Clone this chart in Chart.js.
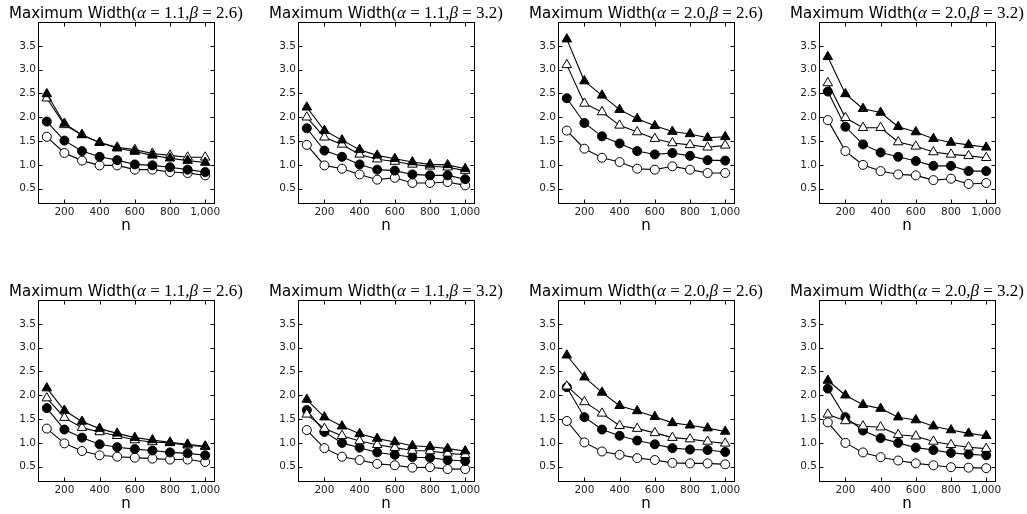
<!DOCTYPE html>
<html lang="en">
<head>
  <meta charset="UTF-8">
  <title>Maximum Width</title>
  <style>
    html, body { margin: 0; padding: 0; background: #fff; overflow: hidden; }
    #wrap { position: relative; width: 1027px; height: 514px; }
    .panel { position: absolute; }
  </style>
</head>
<body>
<div id="wrap"></div>

<script src="https://cdn.jsdelivr.net/npm/chart.js@4.4.1/dist/chart.umd.min.js"></script>
<script>
  // x values and ticks
  const nValues = [100, 200, 300, 400, 500, 600, 700, 800, 900, 1000];
  const xTicks = [200, 400, 600, 800, 1000];
  const yTicks = [0.5, 1.0, 1.5, 2.0, 2.5, 3.0, 3.5];

  // panel parameters (alpha, beta), same for both rows
  const alphas = ['1.1', '1.1', '2.0', '2.0'];
  const betas = ['2.6', '3.2', '2.6', '3.2'];

  // top row
  const p1FilledTri = [2.49, 1.87, 1.63, 1.47, 1.35, 1.28, 1.20, 1.14, 1.09, 1.05];
  const p1OpenTri   = [2.40, 1.84, 1.63, 1.47, 1.37, 1.32, 1.24, 1.20, 1.16, 1.16];
  const p1FilledCir = [1.91, 1.51, 1.29, 1.17, 1.10, 1.01, 0.99, 0.95, 0.90, 0.85];
  const p1OpenCir   = [1.59, 1.25, 1.09, 0.99, 0.99, 0.90, 0.90, 0.85, 0.83, 0.78];

  const p2FilledTri = [2.21, 1.72, 1.52, 1.32, 1.20, 1.13, 1.06, 1.01, 1.00, 0.92];
  const p2OpenTri   = [2.00, 1.58, 1.43, 1.22, 1.12, 1.07, 1.01, 0.97, 0.95, 0.88];
  const p2FilledCir = [1.77, 1.30, 1.17, 1.01, 0.90, 0.88, 0.80, 0.78, 0.78, 0.70];
  const p2OpenCir   = [1.42, 0.99, 0.92, 0.80, 0.69, 0.73, 0.62, 0.62, 0.64, 0.57];

  const p3FilledTri = [3.64, 2.76, 2.46, 2.16, 1.97, 1.82, 1.70, 1.65, 1.57, 1.59];
  const p3OpenTri   = [3.10, 2.29, 2.11, 1.83, 1.69, 1.55, 1.46, 1.42, 1.37, 1.41];
  const p3FilledCir = [2.40, 1.88, 1.60, 1.45, 1.29, 1.22, 1.25, 1.19, 1.10, 1.09];
  const p3OpenCir   = [1.72, 1.34, 1.15, 1.06, 0.92, 0.90, 0.97, 0.90, 0.83, 0.83];

  const p4FilledTri = [3.27, 2.49, 2.18, 2.10, 1.80, 1.69, 1.55, 1.47, 1.42, 1.37];
  const p4OpenTri   = [2.72, 1.99, 1.78, 1.78, 1.48, 1.39, 1.27, 1.22, 1.19, 1.15];
  const p4FilledCir = [2.54, 1.80, 1.43, 1.26, 1.17, 1.08, 0.98, 0.98, 0.87, 0.87];
  const p4OpenCir   = [1.94, 1.29, 1.00, 0.87, 0.80, 0.78, 0.68, 0.71, 0.60, 0.62];

  // bottom row
  const p5FilledTri = [2.15, 1.68, 1.45, 1.30, 1.20, 1.11, 1.06, 1.01, 0.97, 0.93];
  const p5OpenTri   = [1.94, 1.53, 1.32, 1.23, 1.15, 1.06, 1.02, 1.00, 0.95, 0.92];
  const p5FilledCir = [1.73, 1.28, 1.11, 0.97, 0.91, 0.87, 0.84, 0.80, 0.78, 0.74];
  const p5OpenCir   = [1.30, 0.99, 0.83, 0.74, 0.71, 0.69, 0.67, 0.65, 0.65, 0.60];

  const p6FilledTri = [1.91, 1.54, 1.35, 1.19, 1.09, 1.02, 0.94, 0.92, 0.88, 0.83];
  const p6OpenTri   = [1.60, 1.30, 1.15, 1.04, 0.96, 0.90, 0.84, 0.83, 0.78, 0.75];
  const p6FilledCir = [1.69, 1.23, 1.00, 0.90, 0.80, 0.75, 0.70, 0.69, 0.64, 0.62];
  const p6OpenCir   = [1.27, 0.89, 0.71, 0.64, 0.56, 0.53, 0.48, 0.49, 0.45, 0.45];

  const p7FilledTri = [2.84, 2.38, 2.06, 1.78, 1.67, 1.55, 1.42, 1.37, 1.31, 1.24];
  const p7OpenTri   = [2.19, 1.86, 1.62, 1.36, 1.30, 1.21, 1.11, 1.08, 1.03, 0.99];
  const p7FilledCir = [2.17, 1.54, 1.28, 1.15, 1.05, 0.97, 0.89, 0.86, 0.85, 0.81];
  const p7OpenCir   = [1.46, 1.01, 0.82, 0.75, 0.68, 0.64, 0.58, 0.57, 0.57, 0.55];

  const p8FilledTri = [2.31, 2.00, 1.80, 1.72, 1.54, 1.48, 1.35, 1.27, 1.20, 1.15];
  const p8OpenTri   = [1.60, 1.46, 1.35, 1.33, 1.17, 1.14, 1.03, 0.96, 0.91, 0.88];
  const p8FilledCir = [2.14, 1.54, 1.26, 1.10, 1.00, 0.90, 0.85, 0.79, 0.76, 0.74];
  const p8OpenCir   = [1.43, 1.00, 0.80, 0.70, 0.63, 0.57, 0.53, 0.49, 0.48, 0.47];

  const panels = [
    [p1FilledTri, p1OpenTri, p1FilledCir, p1OpenCir],
    [p2FilledTri, p2OpenTri, p2FilledCir, p2OpenCir],
    [p3FilledTri, p3OpenTri, p3FilledCir, p3OpenCir],
    [p4FilledTri, p4OpenTri, p4FilledCir, p4OpenCir],
    [p5FilledTri, p5OpenTri, p5FilledCir, p5OpenCir],
    [p6FilledTri, p6OpenTri, p6FilledCir, p6OpenCir],
    [p7FilledTri, p7OpenTri, p7FilledCir, p7OpenCir],
    [p8FilledTri, p8OpenTri, p8FilledCir, p8OpenCir]
  ];

  const SANS = '"DejaVu Sans", sans-serif';
  const SERIF = '17px "Liberation Serif", serif';
  const SERIF_I = 'italic 17px "Liberation Serif", serif';

  const markerStyles = [
    { pointStyle: 'triangle', fill: '#000', r: 5.5 },
    { pointStyle: 'triangle', fill: '#fff', r: 5.5 },
    { pointStyle: 'circle', fill: '#000', r: 4.5 },
    { pointStyle: 'circle', fill: '#fff', r: 4.5 }
  ];

  // box around plot, inward ticks, and the mixed-font title
  const framePlugin = {
    id: 'frame',
    beforeDatasetsDraw(chart) {
      const { ctx, chartArea: a, scales: { x, y } } = chart;
      const L = Math.round(a.left) + 0.5, R = Math.round(a.right) + 0.5;
      const T = Math.round(a.top) + 0.5, B = Math.round(a.bottom) + 0.5;
      ctx.save();
      ctx.strokeStyle = '#000';
      ctx.lineWidth = 1;
      ctx.strokeRect(L, T, R - L, B - T);
      ctx.beginPath();
      x.ticks.forEach(t => {
        const px = Math.round(x.getPixelForValue(t.value)) + 0.5;
        ctx.moveTo(px, B); ctx.lineTo(px, B - 4);
        ctx.moveTo(px, T); ctx.lineTo(px, T + 4);
      });
      y.ticks.forEach(t => {
        const py = Math.round(y.getPixelForValue(t.value)) + 0.5;
        ctx.moveTo(L, py); ctx.lineTo(L + 4, py);
        ctx.moveTo(R, py); ctx.lineTo(R - 4, py);
      });
      ctx.stroke();
      ctx.restore();
    },
    afterDraw(chart, args, opts) {
      const { ctx, chartArea: a } = chart;
      const parts = [
        ['Maximum Width', '15px ' + SANS],
        ['(', SERIF], ['α', SERIF_I], [' = ', SERIF], [opts.alpha, SERIF],
        [',', SERIF], ['β', SERIF_I], [' = ', SERIF], [opts.beta, SERIF], [')', SERIF]
      ];
      ctx.save();
      ctx.fillStyle = '#000';
      ctx.textBaseline = 'alphabetic';
      let total = 0;
      parts.forEach(p => { ctx.font = p[1]; total += ctx.measureText(p[0]).width; });
      let xPos = (a.left + a.right) / 2 - total / 2;
      parts.forEach(p => {
        ctx.font = p[1];
        ctx.fillText(p[0], xPos, 18);
        xPos += ctx.measureText(p[0]).width;
      });
      ctx.restore();
    }
  };

  const lefts = [0, 260, 520, 781];
  const tops = [0, 278];
  const wrap = document.getElementById('wrap');

  panels.forEach((series, i) => {
    const col = i % 4, row = Math.floor(i / 4);
    const div = document.createElement('div');
    div.className = 'panel';
    div.style.left = lefts[col] + 'px';
    div.style.top = tops[row] + 'px';
    const canvas = document.createElement('canvas');
    canvas.width = 246;
    canvas.height = 236;
    div.appendChild(canvas);
    wrap.appendChild(div);

    new Chart(canvas.getContext('2d'), {
      type: 'line',
      data: {
        datasets: series.map((vals, k) => ({
          data: vals.map((v, j) => ({ x: nValues[j], y: v })),
          borderColor: '#000',
          borderWidth: 1.1,
          tension: 0,
          fill: false,
          pointStyle: markerStyles[k].pointStyle,
          pointRadius: markerStyles[k].r,
          pointBackgroundColor: markerStyles[k].fill,
          pointBorderColor: '#000',
          pointBorderWidth: 1
        }))
      },
      options: {
        responsive: false,
        animation: false,
        events: [],
        layout: { padding: { left: 0, top: 22, right: 32, bottom: 0 } },
        plugins: {
          legend: { display: false },
          tooltip: { enabled: false },
          title: { display: false },
          frame: { alpha: alphas[col], beta: betas[col] }
        },
        scales: {
          x: {
            type: 'linear',
            min: 50,
            max: 1050,
            afterBuildTicks: s => { s.ticks = xTicks.map(v => ({ value: v })); },
            afterFit: s => { s.height = 33; },
            grid: { display: false, drawTicks: false },
            border: { display: false },
            ticks: {
              font: { family: SANS, size: 10.5 },
              color: '#222',
              padding: 3,
              maxRotation: 0,
              autoSkip: false,
              callback: v => v.toLocaleString('en-US')
            },
            title: {
              display: true,
              text: 'n',
              font: { family: SANS, size: 15 },
              color: '#000',
              padding: { top: 0, bottom: 1 }
            }
          },
          y: {
            min: 0.2,
            max: 4.0,
            afterBuildTicks: s => { s.ticks = yTicks.map(v => ({ value: v })); },
            afterFit: s => { s.width = 38; },
            grid: { display: false, drawTicks: false },
            border: { display: false },
            ticks: {
              font: { family: SANS, size: 10.5 },
              color: '#222',
              padding: 2,
              callback: v => v.toFixed(1)
            }
          }
        }
      },
      plugins: [framePlugin]
    });
  });
</script>
</body>
</html>
